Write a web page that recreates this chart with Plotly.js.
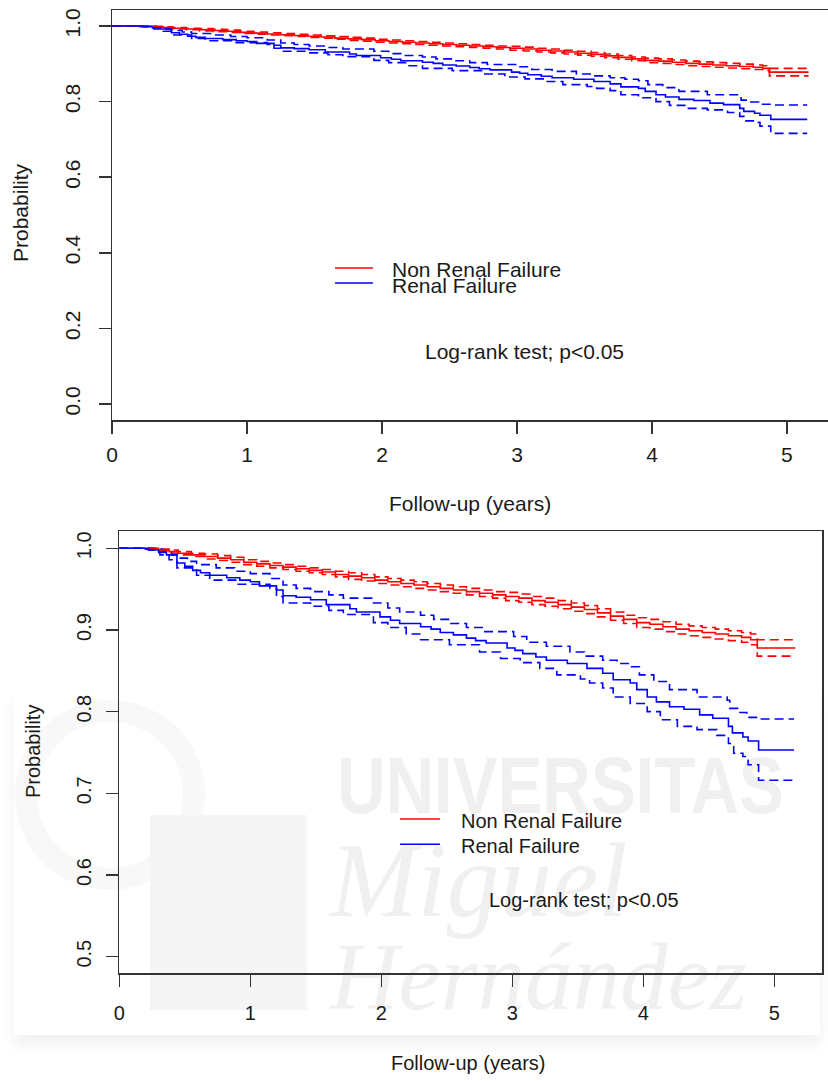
<!DOCTYPE html>
<html>
<head>
<meta charset="utf-8">
<script src="https://cdn.plot.ly/plotly-3.0.1.min.js"></script>
<style>
  html, body { margin:0; padding:0; background:#ffffff; }
  #wrap { position:relative; width:828px; height:1081px; overflow:hidden; }
  #wm { position:absolute; left:0; top:0; width:828px; height:1081px; z-index:0; }
  #chart { position:absolute; left:0; top:0; width:828px; height:1081px; z-index:1; }
  .wmtxt { position:absolute; color:#f0f0f0; white-space:nowrap; line-height:1; }
</style>
</head>
<body>
<div id="wrap">
  <div id="wm">
    <div style="position:absolute;left:14px;top:690px;width:806px;height:345px;box-shadow:0 10px 14px rgba(0,0,0,0.06);background:#fff;"></div>
    <div style="position:absolute;left:15px;top:700px;width:190px;height:190px;border-radius:50%;border:22px solid #f8f8f8;box-sizing:border-box;"></div>
    <div style="position:absolute;left:150px;top:815px;width:157px;height:195px;background:#f5f5f5;"></div>
    <div class="wmtxt" style="left:337px;top:740px;font:bold 80px 'Liberation Sans',Arial,sans-serif;transform:scaleX(0.84);transform-origin:left top;">UNIVERSITAS</div>
    <div class="wmtxt" style="left:330px;top:820px;font:italic 105px 'Liberation Serif','DejaVu Serif',serif;">Miguel</div>
    <div class="wmtxt" style="left:330px;top:922px;font:italic 95px 'Liberation Serif','DejaVu Serif',serif;">Hernández</div>
  </div>
  <div id="chart"></div>
</div>
<script>
// ---- data ----
const xTicks = [0, 1, 2, 3, 4, 5];
const xTickText = ['0', '1', '2', '3', '4', '5'];
const yTicksTop = [0.0, 0.2, 0.4, 0.6, 0.8, 1.0];
const yTickTextTop = ['0.0', '0.2', '0.4', '0.6', '0.8', '1.0'];
const yTicksBottom = [0.5, 0.6, 0.7, 0.8, 0.9, 1.0];
const yTickTextBottom = ['0.5', '0.6', '0.7', '0.8', '0.9', '1.0'];

const groupNames = ['Non Renal Failure', 'Renal Failure'];
const xTitle = 'Follow-up (years)';
const yTitle = 'Probability';
const testText = 'Log-rank test; p<0.05';

// Non Renal Failure (red): survival estimate and 95% CI
const redTime  = [0,0.25,0.30,0.38,0.45,0.55,0.65,0.75,0.85,0.95,1.05,1.15,1.25,1.35,1.45,1.55,1.65,1.75,1.85,1.95,2.05,2.15,2.25,2.35,2.45,2.55,2.65,2.75,2.85,2.95,3.05,3.15,3.25,3.35,3.45,3.55,3.65,3.75,3.85,3.95,4.05,4.15,4.25,4.35,4.45,4.55,4.65,4.75,4.82,4.87,5.16];
const redSurv  = [1,1,0.998,0.996,0.994,0.992,0.990,0.988,0.986,0.983,0.981,0.979,0.977,0.975,0.973,0.971,0.968,0.966,0.964,0.961,0.959,0.957,0.955,0.953,0.951,0.949,0.947,0.945,0.943,0.941,0.939,0.936,0.934,0.931,0.928,0.925,0.921,0.917,0.913,0.909,0.907,0.904,0.901,0.899,0.897,0.895,0.893,0.891,0.888,0.878,0.878];
const redUpper = [1,1,0.999,0.998,0.996,0.994,0.993,0.991,0.989,0.986,0.984,0.982,0.980,0.978,0.976,0.974,0.972,0.970,0.968,0.965,0.963,0.961,0.959,0.957,0.955,0.953,0.951,0.949,0.947,0.946,0.944,0.941,0.939,0.936,0.933,0.930,0.926,0.922,0.918,0.915,0.913,0.910,0.907,0.905,0.903,0.901,0.899,0.897,0.895,0.888,0.888];
const redLower = [1,1,0.997,0.994,0.992,0.990,0.987,0.985,0.983,0.980,0.978,0.976,0.974,0.972,0.970,0.968,0.965,0.962,0.960,0.957,0.955,0.953,0.951,0.949,0.947,0.945,0.943,0.941,0.939,0.936,0.934,0.931,0.929,0.926,0.923,0.920,0.916,0.912,0.908,0.903,0.901,0.898,0.895,0.893,0.891,0.889,0.887,0.885,0.882,0.868,0.868];

// Renal Failure (blue): survival estimate
const blueTime = [0,0.20,0.23,0.30,0.36,0.44,0.50,0.56,0.62,0.69,0.82,0.92,1.00,1.07,1.20,1.25,1.35,1.46,1.58,1.76,1.81,1.99,2.07,2.14,2.30,2.38,2.45,2.55,2.65,2.72,2.80,2.96,3.02,3.08,3.18,3.26,3.42,3.57,3.69,3.77,3.90,3.95,4.03,4.10,4.20,4.31,4.43,4.53,4.65,4.68,4.76,4.80,4.88,5.15];
const blueSurv = [1,0.999,0.998,0.995,0.992,0.982,0.978,0.973,0.970,0.967,0.964,0.961,0.959,0.954,0.949,0.942,0.940,0.937,0.931,0.926,0.922,0.916,0.912,0.908,0.904,0.901,0.897,0.894,0.890,0.887,0.884,0.878,0.875,0.871,0.867,0.863,0.859,0.853,0.847,0.839,0.835,0.827,0.818,0.812,0.806,0.803,0.796,0.792,0.782,0.774,0.769,0.764,0.753,0.753];
// Renal Failure upper 95% CI
const blueUpperTime = [0,0.25,0.33,0.40,0.44,0.52,0.59,0.74,0.88,1.00,1.15,1.25,1.35,1.46,1.60,1.71,1.94,2.05,2.14,2.30,2.40,2.52,2.65,2.78,3.01,3.11,3.26,3.44,3.55,3.69,3.80,3.90,3.97,4.08,4.20,4.41,4.64,4.66,4.72,4.79,4.88,5.15];
const blueUpper     = [1,0.999,0.996,0.992,0.988,0.984,0.980,0.976,0.972,0.969,0.963,0.955,0.951,0.947,0.943,0.939,0.933,0.927,0.922,0.918,0.913,0.908,0.903,0.898,0.892,0.885,0.880,0.873,0.868,0.863,0.859,0.855,0.845,0.837,0.827,0.818,0.814,0.804,0.799,0.793,0.791,0.791];
// Renal Failure lower 95% CI
const blueLowerTime = [0,0.22,0.31,0.38,0.44,0.59,0.69,0.90,1.15,1.20,1.25,1.46,1.60,1.71,1.94,2.05,2.19,2.30,2.52,2.75,2.91,3.06,3.21,3.34,3.52,3.59,3.69,3.77,3.90,4.03,4.13,4.26,4.41,4.56,4.65,4.69,4.76,4.80,4.88,5.15];
const blueLower     = [1,0.998,0.992,0.986,0.976,0.967,0.961,0.956,0.951,0.941,0.933,0.929,0.924,0.919,0.909,0.903,0.895,0.888,0.882,0.873,0.865,0.860,0.853,0.845,0.840,0.835,0.829,0.818,0.810,0.800,0.790,0.782,0.778,0.771,0.761,0.749,0.745,0.735,0.716,0.716];

// ---- styling ----
const RED = '#ff0000', BLUE = '#0000ff';
const FONT = "'Liberation Sans', Arial, sans-serif";
const LW = 1.6;
const DASH = '9px,5px';

function curves(xa, ya) {
  const mk = (x, y, color, dash, name) => ({
    type: 'scatter', mode: 'lines', x: x, y: y, xaxis: xa, yaxis: ya,
    line: { shape: 'hv', color: color, width: LW, dash: dash },
    name: name, showlegend: false, hoverinfo: 'skip'
  });
  return [
    mk(redTime, redUpper, RED, DASH, groupNames[0] + ' upper'),
    mk(redTime, redLower, RED, DASH, groupNames[0] + ' lower'),
    mk(blueUpperTime, blueUpper, BLUE, DASH, groupNames[1] + ' upper'),
    mk(blueLowerTime, blueLower, BLUE, DASH, groupNames[1] + ' lower'),
    mk(redTime, redSurv, RED, 'solid', groupNames[0]),
    mk(blueTime, blueSurv, BLUE, 'solid', groupNames[1])
  ];
}

const data = curves('x', 'y').concat(curves('x2', 'y2'));

const W = 828, H = 1081;
function axisBase(size) {
  return {
    ticks: 'outside', ticklen: 12, tickwidth: 1.5, tickcolor: '#333',
    showline: true, linecolor: '#333', linewidth: 1.5,
    showgrid: false, zeroline: false, fixedrange: true,
    tickfont: { family: FONT, size: size, color: '#1a1a1a' }
  };
}

const layout = {
  width: W, height: H,
  margin: { l: 0, r: 0, t: 0, b: 0 },
  paper_bgcolor: 'rgba(0,0,0,0)', plot_bgcolor: 'rgba(0,0,0,0)',
  showlegend: false,
  font: { family: FONT, color: '#1a1a1a' },
  xaxis: Object.assign(axisBase(21), {
    domain: [112 / W, 1], range: [0, 5.304], anchor: 'y', mirror: true,
    tickvals: xTicks, ticktext: xTickText, ticklabelstandoff: 3
  }),
  yaxis: Object.assign(axisBase(21), {
    domain: [1 - 420 / H, 1 - 10 / H], range: [-0.0423, 1.0423], anchor: 'x', mirror: false,
    tickvals: yTicksTop, ticktext: yTickTextTop, tickangle: -90, ticklabelstandoff: 10
  }),
  xaxis2: Object.assign(axisBase(20), {
    domain: [119.3 / W, 822 / W], range: [0, 5.364], anchor: 'y2', mirror: true,
    tickvals: xTicks, ticktext: xTickText, ticklabelstandoff: 9
  }),
  yaxis2: Object.assign(axisBase(20), {
    domain: [1 - 973 / H, 1 - 531 / H], range: [0.48, 1.0212], anchor: 'x2', mirror: true,
    tickvals: yTicksBottom, ticktext: yTickTextBottom, tickangle: -90, ticklabelstandoff: 7
  }),
  shapes: [
    // legend keys (top)
    { type: 'line', xref: 'x', yref: 'y', x0: 1.652, x1: 1.933, y0: 0.3598, y1: 0.3598, line: { color: RED, width: LW } },
    { type: 'line', xref: 'x', yref: 'y', x0: 1.652, x1: 1.933, y0: 0.320, y1: 0.320, line: { color: BLUE, width: LW } },
    // legend keys (bottom)
    { type: 'line', xref: 'x2', yref: 'y2', x0: 2.143, x1: 2.448, y0: 0.6686, y1: 0.6686, line: { color: RED, width: LW } },
    { type: 'line', xref: 'x2', yref: 'y2', x0: 2.143, x1: 2.448, y0: 0.6376, y1: 0.6376, line: { color: BLUE, width: LW } }
  ],
  annotations: [
    // top panel
    { xref: 'x', yref: 'y', x: 2.059, y: 0.3571, text: groupNames[0], showarrow: false, xanchor: 'left', yanchor: 'middle', font: { size: 21 } },
    { xref: 'x', yref: 'y', x: 2.059, y: 0.3148, text: groupNames[1], showarrow: false, xanchor: 'left', yanchor: 'middle', font: { size: 21 } },
    { xref: 'x', yref: 'y', x: 2.304, y: 0.1376, text: testText, showarrow: false, xanchor: 'left', yanchor: 'middle', font: { size: 21 } },
    { xref: 'paper', yref: 'paper', x: 470 / W, y: 1 - 504 / H, text: xTitle, showarrow: false, xanchor: 'center', yanchor: 'middle', font: { size: 21 } },
    { xref: 'paper', yref: 'paper', x: 20 / W, y: 1 - 213 / H, text: yTitle, showarrow: false, textangle: -90, xanchor: 'center', yanchor: 'middle', font: { size: 21 } },
    // bottom panel
    { xref: 'x2', yref: 'y2', x: 2.593, y: 0.6661, text: groupNames[0], showarrow: false, xanchor: 'left', yanchor: 'middle', font: { size: 20 } },
    { xref: 'x2', yref: 'y2', x: 2.593, y: 0.6355, text: groupNames[1], showarrow: false, xanchor: 'left', yanchor: 'middle', font: { size: 20 } },
    { xref: 'x2', yref: 'y2', x: 2.805, y: 0.5695, text: testText, showarrow: false, xanchor: 'left', yanchor: 'middle', font: { size: 20 } },
    { xref: 'paper', yref: 'paper', x: 468 / W, y: 1 - 1063 / H, text: xTitle, showarrow: false, xanchor: 'center', yanchor: 'middle', font: { size: 20 } },
    { xref: 'paper', yref: 'paper', x: 33 / W, y: 1 - 752 / H, text: yTitle, showarrow: false, textangle: -90, xanchor: 'center', yanchor: 'middle', font: { size: 20 } }
  ]
};

Plotly.newPlot('chart', data, layout, { displayModeBar: false, staticPlot: true });
</script>
</body>
</html>
